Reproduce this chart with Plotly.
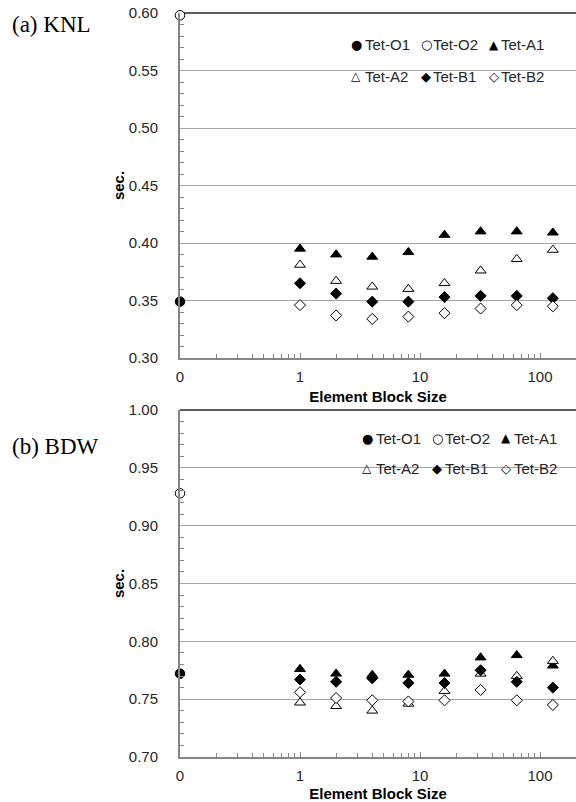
import numpy as np
import plotly.graph_objects as go

# ---------------- data ----------------
block_sizes = [1, 2, 4, 8, 16, 32, 64, 128]
zero_pos = [0.1]  # plotted at the log-axis origin, labelled "0"

knl_o1 = [0.349]
knl_o2 = [0.598]
knl_a1 = [0.395, 0.390, 0.388, 0.392, 0.407, 0.410, 0.410, 0.409]
knl_a2 = [0.381, 0.367, 0.362, 0.360, 0.365, 0.376, 0.386, 0.394]
knl_b1 = [0.365, 0.356, 0.349, 0.349, 0.353, 0.354, 0.354, 0.352]
knl_b2 = [0.346, 0.337, 0.334, 0.336, 0.339, 0.343, 0.346, 0.345]

bdw_o1 = [0.772]
bdw_o2 = [0.928]
bdw_a1 = [0.776, 0.772, 0.771, 0.771, 0.772, 0.786, 0.788, 0.779]
bdw_a2 = [0.747, 0.744, 0.740, 0.746, 0.757, 0.772, 0.770, 0.783]
bdw_b1 = [0.767, 0.765, 0.768, 0.764, 0.764, 0.775, 0.765, 0.760]
bdw_b2 = [0.756, 0.751, 0.749, 0.748, 0.749, 0.758, 0.749, 0.745]

series_names = ["Tet-O1", "Tet-O2", "Tet-A1", "Tet-A2", "Tet-B1", "Tet-B2"]
x_tickvals = [0.1, 1, 10, 100]
x_ticktext = ["0", "1", "10", "100"]

# ---------------- styling ----------------
FONT = "Liberation Sans, Arial, sans-serif"
SERIF = "Liberation Serif, Times New Roman, serif"
TXT = "#262626"
GRID = "#a6a6a6"
AXIS = "#868686"

styles = {
    "Tet-O1": dict(symbol="circle", color="black", size=9.5, glyph="\u25CF"),
    "Tet-O2": dict(symbol="circle", color="white", size=9.5, glyph="\u25CB"),
    "Tet-A1": dict(symbol="triangle-up", color="black", size=9.5, glyph="\u25B2"),
    "Tet-A2": dict(symbol="triangle-up", color="white", size=9.5, glyph="\u25B3"),
    "Tet-B1": dict(symbol="diamond", color="black", size=8.5, glyph="\u25C6"),
    "Tet-B2": dict(symbol="diamond", color="white", size=8.5, glyph="\u25C7"),
}

panels = [
    dict(xa="x", ya="y",
         series=[(zero_pos, knl_o1), (zero_pos, knl_o2), (block_sizes, knl_a1),
                 (block_sizes, knl_a2), (block_sizes, knl_b1), (block_sizes, knl_b2)]),
    dict(xa="x2", ya="y2",
         series=[(zero_pos, bdw_o1), (zero_pos, bdw_o2), (block_sizes, bdw_a1),
                 (block_sizes, bdw_a2), (block_sizes, bdw_b1), (block_sizes, bdw_b2)]),
]

fig = go.Figure()
for p in panels:
    for name, (xs, ys) in zip(series_names, p["series"]):
        st = styles[name]
        fig.add_trace(go.Scatter(
            x=xs, y=ys, name=name, mode="markers",
            xaxis=p["xa"], yaxis=p["ya"], showlegend=False,
            marker=dict(symbol=st["symbol"], size=st["size"], color=st["color"],
                        line=dict(color="black", width=1)),
            cliponaxis=False,
        ))

W, H = 576, 802
ML, MR, MT, MB = 180, 0, 13, 45
PH = H - MT - MB


def py(pix):
    return 1 - (pix - MT) / PH


def px(pix):
    return (pix - ML) / (W - ML - MR)


minor_x = [m * 10 ** k for k in range(-1, 3) for m in range(2, 10)]

xaxis_common = dict(
    type="log", range=[-1, 2.3],
    tickvals=x_tickvals, ticktext=x_ticktext,
    ticks="inside", ticklen=5, tickcolor=AXIS, tickwidth=1,
    minor=dict(tickvals=minor_x, ticks="inside", ticklen=4, tickcolor=AXIS, showgrid=False),
    showline=True, linecolor=AXIS, linewidth=2,
    showgrid=False, zeroline=False,
    tickfont=dict(family=FONT, size=15, color=TXT),
    ticklabelstandoff=4,
    title=dict(text="<b>Element Block Size</b>", font=dict(family=FONT, size=15, color="black"),
               standoff=7),
)

yaxis_common = dict(
    dtick=0.05, tickformat=".2f",
    ticks="", showline=True, linecolor=AXIS, linewidth=2,
    showgrid=True, gridcolor=GRID, gridwidth=1, zeroline=False,
    minor=dict(dtick=0.01, ticks="inside", ticklen=4, tickcolor=AXIS, showgrid=False),
    tickfont=dict(family=FONT, size=15, color=TXT),
    ticklabelstandoff=17,
    title=dict(text="<b>sec.</b>", font=dict(family=FONT, size=15, color="black"), standoff=1),
)

dom_a = [py(358), 1]
dom_b = [0, py(410)]

fig.update_layout(
    width=W, height=H,
    margin=dict(l=ML, r=MR, t=MT, b=MB, autoexpand=False),
    paper_bgcolor="white", plot_bgcolor="white",
    showlegend=False,
    xaxis=dict(**xaxis_common, anchor="y", domain=[0, 1]),
    yaxis=dict(**yaxis_common, anchor="x", domain=dom_a, range=[0.30, 0.60]),
    xaxis2=dict(**xaxis_common, anchor="y2", domain=[0, 1]),
    yaxis2=dict(**yaxis_common, anchor="x2", domain=dom_b, range=[0.70, 1.00]),
)

# legend rows drawn as text (symbol glyph + series name), Excel-style layout
legend_layout = [
    # (row y pixels, marker centre x pixels for 3 columns, text start x pixels)
    dict(rows=(45, 76), mx=(356, 426, 494), tx=(364, 432, 500)),
    dict(rows=(438, 468), mx=(367, 437, 506), tx=(375, 444, 513)),
]
glyph_size = {"Tet-O1": 13, "Tet-O2": 13, "Tet-A1": 12, "Tet-A2": 12, "Tet-B1": 13, "Tet-B2": 13}
for lay in legend_layout:
    for idx, name in enumerate(series_names):
        r, c = divmod(idx, 3)
        yy = py(lay["rows"][r])
        fig.add_annotation(text=styles[name]["glyph"], xref="paper", yref="paper",
                           x=px(lay["mx"][c]), y=yy, xanchor="center", yanchor="middle",
                           showarrow=False, borderpad=0,
                           font=dict(family="DejaVu Sans", size=glyph_size[name], color="black"))
        fig.add_annotation(text=name, xref="paper", yref="paper",
                           x=px(lay["tx"][c]), y=yy, xanchor="left", yanchor="middle",
                           showarrow=False, borderpad=0,
                           font=dict(family=FONT, size=15, color=TXT))

# dark top border line on each panel
for xr, yr in (("x domain", "y domain"), ("x2 domain", "y2 domain")):
    fig.add_shape(type="line", xref=xr, yref=yr, x0=0, x1=1, y0=1, y1=1,
                  line=dict(color="#262626", width=1.5), layer="below")

fig.add_annotation(text="(a) KNL", xref="paper", yref="paper", x=px(10), y=py(25),
                   xanchor="left", yanchor="middle", showarrow=False,
                   font=dict(family=SERIF, size=23, color="black"))
fig.add_annotation(text="(b) BDW", xref="paper", yref="paper", x=px(10), y=py(446),
                   xanchor="left", yanchor="middle", showarrow=False,
                   font=dict(family=SERIF, size=23, color="black"))

fig.write_html("out.html")
